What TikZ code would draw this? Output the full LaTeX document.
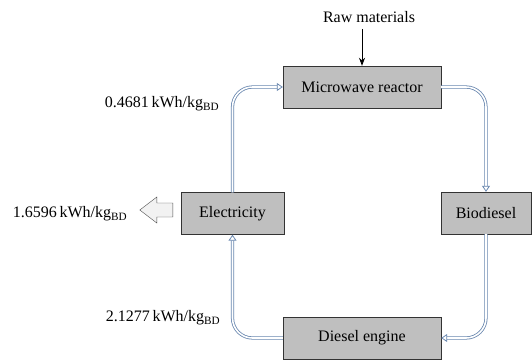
\documentclass[tikz,border=0pt]{standalone}
\usepackage{fontspec}
\setmainfont{Liberation Serif}
\usepackage{xcolor}
\usetikzlibrary{arrows.meta}

\definecolor{flowblue}{RGB}{105,135,175}

\begin{document}
\begin{tikzpicture}[x=1pt,y=-1pt,
  unit/.style={draw=black!80,fill=gray!50,minimum width=158pt,minimum height=42pt,inner sep=0pt,font=\fontsize{16}{18}\selectfont},
  flow/.style={draw=flowblue,double=white,double distance=1.6pt,line width=0.8pt,rounded corners=20pt,-{Triangle[open,length=6pt,width=8pt]}},
  lbl/.style={font=\fontsize{16}{18}\selectfont,inner sep=0pt}]
\useasboundingbox (0,0) rectangle (532,360);
% process units
\node[unit] (mw) at (362,87) {Microwave reactor};
\node[unit,minimum width=90pt] (bd) at (486,213) {Biodiesel};
\node[unit,minimum width=103pt] (el) at (232.5,213.5) {Electricity};
\node[unit] (de) at (362,338) {Diesel engine};
\node[lbl] (raw) at (369,17) {Raw materials};
% energy values
\node[lbl] (e1) at (162,104) {0.4681\,kWh/kg\textsubscript{BD}};
\node[lbl] (e2) at (70,214) {1.6596\,kWh/kg\textsubscript{BD}};
\node[lbl] (e3) at (163,318) {2.1277\,kWh/kg\textsubscript{BD}};
% flows
\draw[-{Stealth[length=8pt,width=6pt]},thick] (raw.south -| mw.north) ++(0,6) -- (mw.north);
\draw[flow] (mw.east) -| (bd.north);
\draw[flow] (bd.south) |- (de.east);
\draw[flow] (de.west) -| (el.south);
\draw[flow] (el.north) |- (mw.west);
% surplus electricity
\draw[draw=black!70,fill=gray!10] ([xshift=-8pt,yshift=10.5pt]el.west) -- ++(-16,0) -- ++(0,-6)
  -- ++(-17,13) -- ++(17,13) -- ++(0,-6) -- ++(16,0) -- cycle;
\end{tikzpicture}
\end{document}
